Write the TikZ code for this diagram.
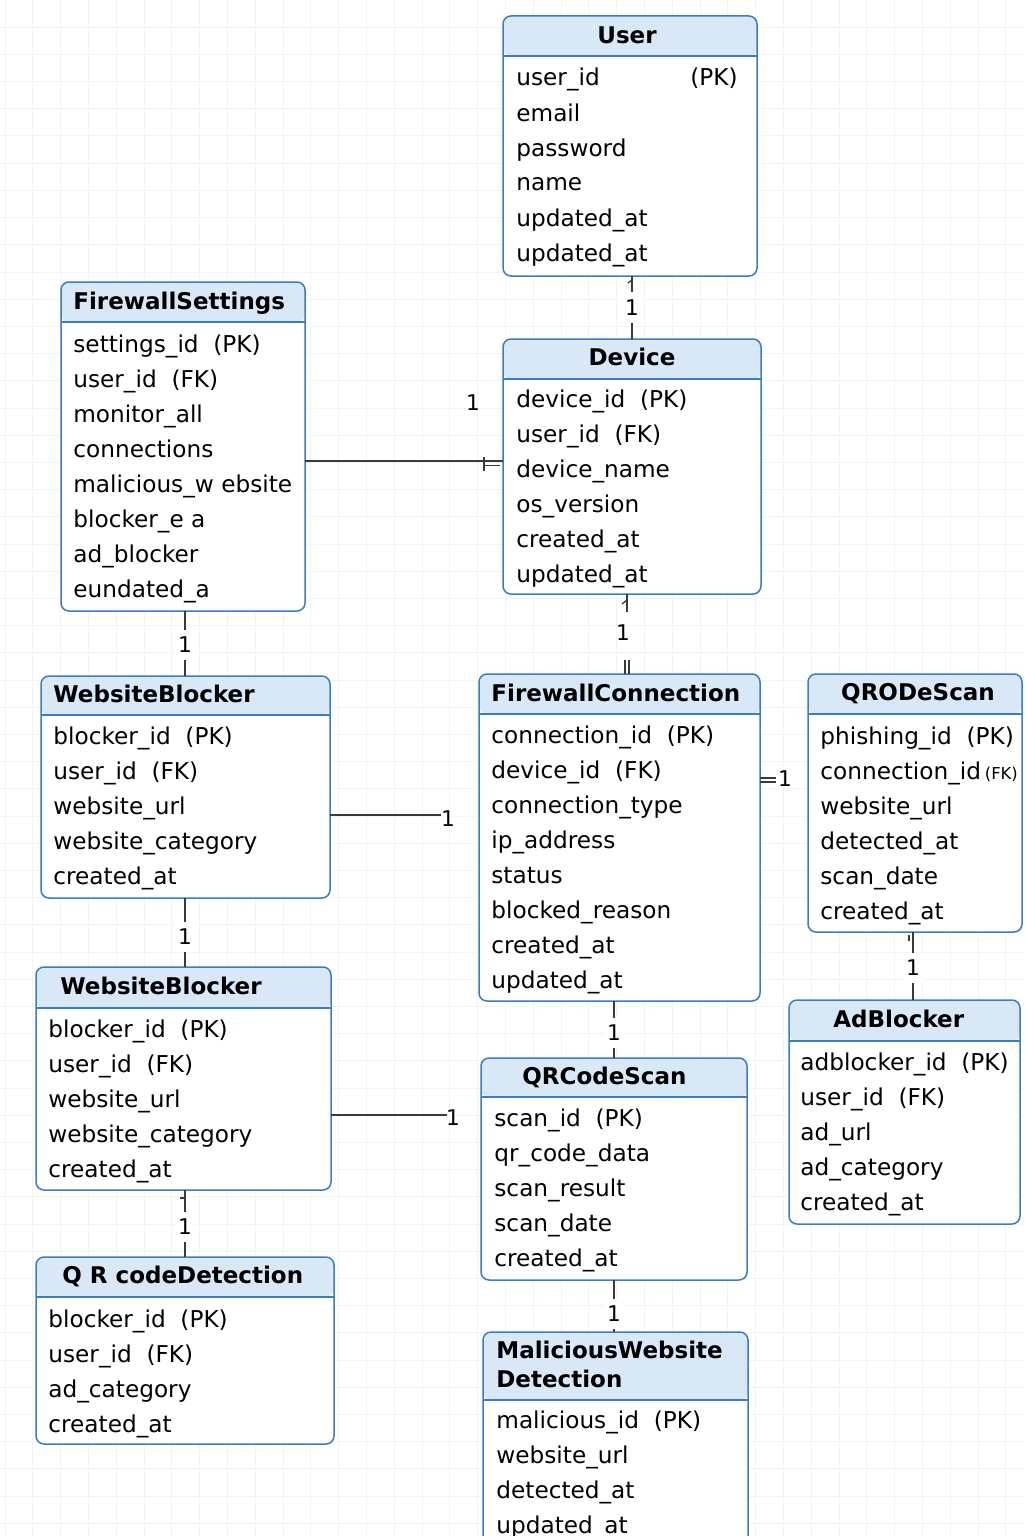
\documentclass[tikz,border=0pt]{standalone}
\usepackage{fontspec}
\setmainfont{DejaVu Sans}
\usetikzlibrary{calc}

\definecolor{boxblue}{HTML}{3A7DC0}
\definecolor{hdrblue}{HTML}{D8E8F7}
\definecolor{gridgray}{HTML}{F4F4F4}
\definecolor{linegray}{HTML}{3A3A3A}

\tikzset{
  erbox/.style={draw=boxblue, line width=0.75pt, rounded corners=4pt, fill=white,
                inner sep=0pt, outer sep=0pt, anchor=north west},
  hdrfill/.style={fill=hdrblue},
  divider/.style={draw=boxblue, line width=0.75pt},
  ttl/.style={font=\fontsize{11.5}{13}\selectfont\bfseries, inner sep=0pt, text=black},
  attr/.style={font=\fontsize{11.6}{13}\selectfont, inner sep=0pt, anchor=base west, text=black},
  card/.style={font=\fontsize{10.8}{12}\selectfont, inner xsep=1.5pt, inner ysep=3.6pt, text=black},
  cardw/.style={card, fill=white},
  conn/.style={draw=linegray, line width=0.65pt},
}

% entity box: name, left, top, right, bottom, header height (all in px units)
\newcommand\erentity[6]{%
  \node[erbox, minimum width={(#4-#2)*0.5pt}, minimum height={(#5-#3)*0.5pt},
    path picture={
      \fill[hdrfill] (path picture bounding box.north west) rectangle
        ([yshift={-#6*0.5pt}]path picture bounding box.north east);
      \draw[divider] ([yshift={-#6*0.5pt}]path picture bounding box.north west) --
        ([yshift={-#6*0.5pt}]path picture bounding box.north east);
    }] (#1) at (#2,#3) {};%
}

% attribute rows: name prefix, x, baseline of first row, list
\newcommand\erattrs[4]{%
  \foreach \t [count=\i] in {#4}
    \node[attr] (#1-a\i) at (#2, {#3+(\i-1)*35}) {\t};%
}

\begin{document}
\begin{tikzpicture}[x=0.5pt, y=-0.5pt]
  \useasboundingbox (0,0) rectangle (1024,1536);
  \clip (0,0) rectangle (1024,1536);
  \fill[white] (0,0) rectangle (1024,1536);

  % faint background grid
  \foreach \gx in {5,32.8,...,1024} \draw[gridgray, line width=0.5pt] (\gx,0) -- (\gx,1536);
  \foreach \gy in {0,27.2,...,1536} \draw[gridgray, line width=0.5pt] (0,\gy) -- (1024,\gy);

  % ---------- entities ----------
  \erentity{user}{503}{16}{757}{276}{40}
  \node[ttl, anchor=base] (user-t) at (627,44) {User};
  \erattrs{user}{516}{86}{user\_id, email, password, name, updated\_at, updated\_at}
  \node[attr] (user-pk) at (690,86) {(PK)};

  \erentity{fs}{61}{282}{305}{611}{40}
  \node[ttl, anchor=base west] (fs-t) at (73,309) {FirewallSettings};
  \erattrs{fs}{73}{352}{settings\_id\ \ (PK), user\_id\ \ (FK), monitor\_all, connections,
    malicious\_w ebsite, blocker\_e a, ad\_blocker, eundated\_a}

  \erentity{dev}{503}{339}{761}{594}{40}
  \node[ttl, anchor=base] (dev-t) at (632,365) {Device};
  \erattrs{dev}{516}{407}{device\_id\ \ (PK), user\_id\ \ (FK), device\_name, os\_version,
    created\_at, updated\_at}

  \erentity{wba}{41}{676}{330}{898}{39}
  \node[ttl, anchor=base west] (wba-t) at (53,702) {WebsiteBlocker};
  \erattrs{wba}{53}{744}{blocker\_id\ \ (PK), user\_id\ \ (FK), website\_url,
    website\_category, created\_at}

  \erentity{fc}{479}{674}{760}{1001}{40}
  \node[ttl, anchor=base west] (fc-t) at (491,701) {FirewallConnection};
  \erattrs{fc}{491}{743}{connection\_id\ \ (PK), device\_id\ \ (FK), connection\_type,
    ip\_address, status, blocked\_reason, created\_at, updated\_at}

  \erentity{qro}{808}{674}{1022}{932}{40}
  \node[ttl, anchor=base] (qro-t) at (918,700) {QRODeScan};
  \erattrs{qro}{820}{744}{phishing\_id\ \ (PK),
    connection\_id\,{\fontsize{8.2}{10}\selectfont(FK)}, website\_url, detected\_at,
    scan\_date, created\_at}

  \erentity{wbb}{36}{967}{331}{1190}{41}
  \node[ttl, anchor=base west] (wbb-t) at (60,994) {WebsiteBlocker};
  \erattrs{wbb}{48}{1037}{blocker\_id\ \ (PK), user\_id\ \ (FK), website\_url,
    website\_category, created\_at}

  \erentity{adb}{789}{1000}{1020}{1224}{41}
  \node[ttl, anchor=base west] (adb-t) at (833,1027) {AdBlocker};
  \erattrs{adb}{800}{1070}{adblocker\_id\ \ (PK), user\_id\ \ (FK), ad\_url,
    ad\_category, created\_at}

  \erentity{qrcs}{481}{1058}{747}{1280}{39}
  \node[ttl, anchor=base west] (qrcs-t) at (522,1084) {QRCodeScan};
  \erattrs{qrcs}{494}{1126}{scan\_id\ \ (PK), qr\_code\_data, scan\_result, scan\_date,
    created\_at}

  \erentity{qrd}{36}{1257}{334}{1444}{40}
  \node[ttl, anchor=base west] (qrd-t) at (62,1283) {Q R codeDetection};
  \erattrs{qrd}{48}{1327}{blocker\_id\ \ (PK), user\_id\ \ (FK), ad\_category, created\_at}

  \erentity{mwd}{483}{1332}{748}{1575}{68}
  \node[ttl, anchor=base west] (mwd-t1) at (496,1358) {MaliciousWebsite};
  \node[ttl, anchor=base west] (mwd-t2) at (496,1387) {Detection};
  \erattrs{mwd}{496}{1428}{malicious\_id\ \ (PK), website\_url, detected\_at, updated\_at}

  % ---------- helper lanes for connectors ----------
  \coordinate (xa) at (632,0);
  \coordinate (xb) at (627,0);
  \coordinate (xc) at (185,0);
  \coordinate (xd) at (913,0);
  \coordinate (xe) at (614,0);
  \coordinate (ya) at (0,461);
  \coordinate (yb) at (0,815);
  \coordinate (yc) at (0,1115);
  \coordinate (yd) at (0,778);
  \coordinate (ye) at (0,782);

  % ---------- relationships ----------
  % User -- Device
  \draw[conn] (user.south -| xa) -- node[cardw, pos=0.5] (r1) {1} (dev.north -| xa);
  \draw[conn] (628,283) -- (632,280);

  % FirewallSettings -- Device
  \draw[conn] (fs.east |- ya) -- (dev.west |- ya);
  \draw[conn] (484,457) -- (484,471);
  \draw[conn] (484,465.5) -- (500,465.5);
  \node[card] (r2) at (473,403) {1};

  % Device -- FirewallConnection
  \draw[conn] (dev.south -| xb) -- (627,612);
  \draw[conn] (622,604) -- (627,600);
  \node[card] (r3) at (623,633) {1};
  \draw[conn] (625,660) -- (fc.north -| 625,0);
  \draw[conn] (629,660) -- (fc.north -| 629,0);

  % FirewallSettings -- WebsiteBlocker
  \draw[conn] (fs.south -| xc) -- node[cardw, pos=0.52] (r4) {1} (wba.north -| xc);

  % WebsiteBlocker -- FirewallConnection
  \draw[conn, shorten >=19pt] (wba.east |- yb) -- (fc.west |- yb);
  \node[card] (r5) at (448,819) {1};

  % FirewallConnection -- QRODeScan
  \draw[conn] (fc.east |- yd) -- (776,778);
  \draw[conn] (fc.east |- ye) -- (776,782);
  \node[card] (r6) at (785,779) {1};

  % QRODeScan -- AdBlocker
  \draw[conn] (qro.south -| xd) -- node[cardw, pos=0.53] (r7) {1} (adb.north -| xd);
  \draw[conn] (909,935) -- (909,941);

  % WebsiteBlocker -- WebsiteBlocker
  \draw[conn] (wba.south -| xc) -- node[cardw, pos=0.565] (r8) {1} (wbb.north -| xc);

  % WebsiteBlocker -- QRCodeScan
  \draw[conn, shorten >=17pt] (wbb.east |- yc) -- (qrcs.west |- yc);
  \node[card] (r9) at (453,1118) {1};

  % FirewallConnection -- QRCodeScan
  \draw[conn] (fc.south -| xe) -- node[cardw, pos=0.56] (r10) {1} (qrcs.north -| xe);

  % WebsiteBlocker -- Q R codeDetection
  \draw[conn] (wbb.south -| xc) -- node[cardw, pos=0.55] (r11) {1} (qrd.north -| xc);
  \draw[conn] (180,1198) -- (185,1198);

  % QRCodeScan -- MaliciousWebsite Detection
  \draw[conn] (qrcs.south -| xe) -- node[cardw, pos=0.65] (r12) {1} (mwd.north -| xe);
\end{tikzpicture}
\end{document}
